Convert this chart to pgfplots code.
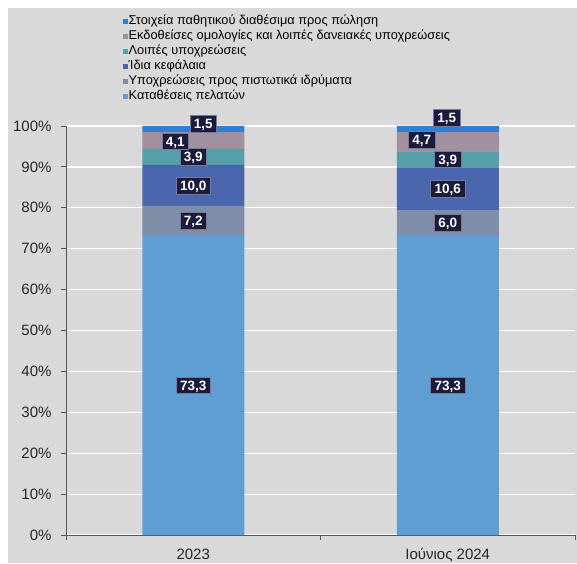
\documentclass[border=0pt]{standalone}
\usepackage{fontspec}
\setmainfont{Liberation Sans}
\usepackage{pgfplots}
\pgfplotsset{compat=1.18}
\definecolor{bg}{HTML}{D9D9D9}
\definecolor{axisgray}{HTML}{555555}
\definecolor{cDep}{HTML}{5F9ED3}
\definecolor{cCred}{HTML}{7F8EA8}
\definecolor{cEq}{HTML}{4A67AE}
\definecolor{cOth}{HTML}{56A0A9}
\definecolor{cBond}{HTML}{A1919F}
\definecolor{cSale}{HTML}{2E7FD8}
\definecolor{navy}{HTML}{1B1B40}
\definecolor{labborder}{HTML}{7A7A95}
\tikzset{lab/.style={fill=navy, draw=labborder, line width=0.4pt, text=white,
    font=\bfseries\fontsize{13.5}{14}\selectfont, inner xsep=4pt, inner ysep=3.5pt,
    text height=9.8pt, text depth=0pt}}
\begin{document}
\begin{tikzpicture}
\useasboundingbox (-66pt,-28pt) rectangle (511pt,535pt);
\fill[white] (-66pt,-28pt) rectangle (511pt,535pt);
\fill[bg] (-58pt,-28pt) rectangle (511pt,527pt);
\begin{axis}[
  at={(0pt,0pt)}, anchor=south west,
  scale only axis, width=509pt, height=409pt,
  ybar stacked, bar width=102pt,
  xmin=-0.5, xmax=1.5, ymin=0, ymax=100,
  clip=false,
  axis x line*=bottom, axis y line*=left,
  axis line style={draw=axisgray, line width=0.9pt},
  xtick={0,1}, xticklabels={2023, Ιούνιος 2024},
  minor xtick={-0.5,0.5,1.5},
  ytick={0,10,...,100},
  yticklabel={\pgfmathprintnumber{\tick}\%},
  /pgf/number format/assume math mode=true,
  tick align=outside,
  major tick length=5pt, minor tick length=5pt,
  tick style={draw=axisgray, line width=0.9pt},
  major x tick style={draw=none},
  ymajorgrids, grid style={white, line width=1.2pt},
  tick label style={font=\fontsize{15}{17}\selectfont, text=black!85},
  yticklabel style={xshift=-6pt},
  xticklabel style={yshift=-5pt},
  legend style={at={(rel axis cs:0.106,1.276)}, anchor=north west, draw=none, fill=none,
    font=\fontsize{12.8}{13}\selectfont, row sep=2.8pt,
    nodes={inner sep=0.5pt, text height=8.7pt, text depth=2.5pt}},
  legend cell align=left,
  reverse legend,
  legend image code/.code={\fill[#1] (0pt,-2.5pt) rectangle (5pt,2.5pt);},
]
\addplot[fill=cDep, draw=none] coordinates {(0,73.3) (1,73.3)};
\addlegendentry{Καταθέσεις πελατών}
\addplot[fill=cCred, draw=none] coordinates {(0,7.2) (1,6.0)};
\addlegendentry{Υποχρεώσεις προς πιστωτικά ιδρύματα}
\addplot[fill=cEq, draw=none] coordinates {(0,10.0) (1,10.6)};
\addlegendentry{Ίδια κεφάλαια}
\addplot[fill=cOth, draw=none] coordinates {(0,3.9) (1,3.9)};
\addlegendentry{Λοιπές υποχρεώσεις}
\addplot[fill=cBond, draw=none] coordinates {(0,4.1) (1,4.7)};
\addlegendentry{Εκδοθείσες ομολογίες και λοιπές δανειακές υποχρεώσεις}
\addplot[fill=cSale, draw=none] coordinates {(0,1.5) (1,1.5)};
\addlegendentry{Στοιχεία παθητικού διαθέσιμα προς πώληση}
% data label positions
\coordinate (a1) at (axis cs:0,36.65);
\coordinate (a2) at (axis cs:0,76.9);
\coordinate (a3) at (axis cs:0,85.4);
\coordinate (a4) at (axis cs:0,92.4);
\coordinate (a5) at (axis cs:-0.071,96.3);
\coordinate (a6) at (axis cs:0.039,100.5);
\coordinate (b1) at (axis cs:1,36.65);
\coordinate (b2) at (axis cs:1,76.3);
\coordinate (b3) at (axis cs:1,84.6);
\coordinate (b4) at (axis cs:1,91.9);
\coordinate (b5) at (axis cs:0.898,96.6);
\coordinate (b6) at (axis cs:0.996,102);
\end{axis}
\node[lab] at (a1) {73,3};
\node[lab] at (a2) {7,2};
\node[lab] at (a3) {10,0};
\node[lab] at (a4) {3,9};
\node[lab] at (a5) {4,1};
\node[lab] at (a6) {1,5};
\node[lab] at (b1) {73,3};
\node[lab] at (b2) {6,0};
\node[lab] at (b3) {10,6};
\node[lab] at (b4) {3,9};
\node[lab] at (b5) {4,7};
\node[lab] at (b6) {1,5};
\end{tikzpicture}
\end{document}
